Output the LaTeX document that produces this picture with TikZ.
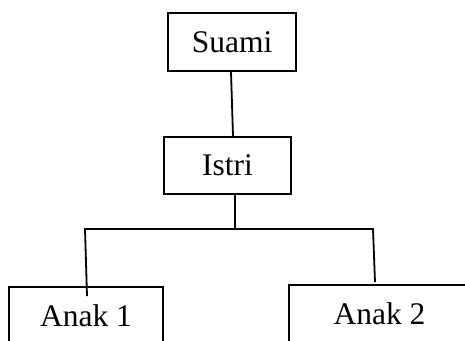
\documentclass[tikz,border=0pt]{standalone}
\usepackage{fontspec}
\setmainfont{Liberation Serif}
\begin{document}
\begin{tikzpicture}[x=1pt,y=1pt,
  box/.style={draw=black,line width=1.8pt,rectangle,inner sep=0pt,
    font=\fontsize{31.5}{36}\selectfont},
  wire/.style={draw=black,line width=1.8pt}]
\useasboundingbox (0,0) rectangle (465,340);
\clip (0,0) rectangle (465,340);
\node[box,minimum width=128,minimum height=58] (suami) at (232,298) {Suami};
\node[box,minimum width=127,minimum height=57] (istri) at (227.5,174.5) {Istri};
\node[box,minimum width=154,minimum height=58] (anak1) at (86,24) {Anak 1};
\node[box,minimum width=181,minimum height=58] (anak2) at (379.5,26) {Anak 2};
\coordinate (j) at (235,111);
\coordinate (l) at (85,111);
\coordinate (r) at (373,111);
\draw[wire] ([xshift=-1pt]suami.south) -- ([xshift=5.5pt]istri.north);
\draw[wire] ([xshift=7.5pt,yshift=2pt]istri.south) -- (j);
\draw[wire,line cap=rect] (l) -- (r);
\draw[wire] (l) -- ([xshift=1pt,yshift=-10pt]anak1.north);
\draw[wire] (r) -- ([xshift=-4.5pt,yshift=2pt]anak2.north);
\end{tikzpicture}
\end{document}
